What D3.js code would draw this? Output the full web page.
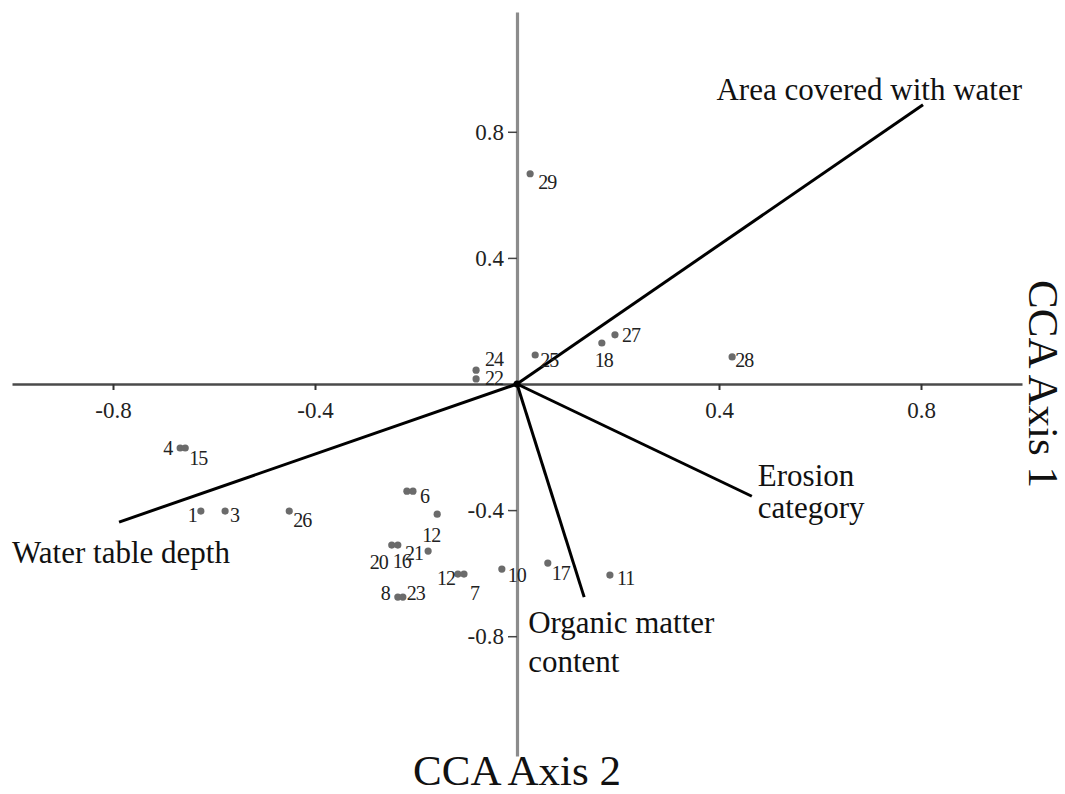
<!DOCTYPE html>
<html>
<head>
<meta charset="utf-8">
<script src="https://cdn.jsdelivr.net/npm/d3@7"></script>
<style>
  body { margin: 0; background: #fff; }
  svg { display: block; font-family: "Liberation Serif", "Times New Roman", serif; }
  .pt-label { font-size: 20px; fill: #222; letter-spacing: -1px; }
  .vec-label { font-size: 31px; fill: #111; }
  .tick text { font-size: 23px; fill: #222; }
  .title { font-size: 43px; fill: #111; }
</style>
</head>
<body>
<svg width="1065" height="794"></svg>
<script>
const svgWidth = 1065;
const svgHeight = 794;

// site scores (CCA axis 1 horizontal, CCA axis 2 vertical as drawn)
const siteLabels = ["29", "24", "22", "25", "18", "27", "28", "4", "15", "1", "3", "26",
    "", "6", "12", "20", "16", "21", "12", "7", "8", "23", "10", "17", "11"];
const siteX = [0.026, -0.081, -0.081, 0.036, 0.168, 0.194, 0.426, -0.667, -0.657, -0.626, -0.578, -0.451,
    -0.218, -0.206, -0.158, -0.248, -0.236, -0.176, -0.117, -0.105, -0.236, -0.226, -0.030, 0.061, 0.184];
const siteY = [0.667, 0.044, 0.016, 0.092, 0.130, 0.156, 0.086, -0.203, -0.203, -0.403, -0.403, -0.403,
    -0.340, -0.340, -0.413, -0.511, -0.511, -0.530, -0.603, -0.603, -0.676, -0.676, -0.587, -0.568, -0.606];

// environmental vectors
const vecNames = [["Area covered with water"], ["Water table depth"], ["Erosion", "category"], ["Organic matter", "content"]];
const vecX = [0.804, -0.788, 0.465, 0.133];
const vecY = [0.886, -0.438, -0.356, -0.676];

const tickVals = [-0.8, -0.4, 0.4, 0.8];

// where the labels sit, relative to the point (px)
const siteLabelPos = [[8, 15, "start"], [9, -4, "start"], [9, 6, "start"], [5, 12, "start"], [-7, 24, "start"],
    [7, 7, "start"], [3, 10, "start"], [-8, 7, "end"], [4, 17, "start"], [-4, 11, "end"], [5, 11, "start"],
    [4, 16, "start"], [0, 0, "start"], [7, 12, "start"], [-6, 28, "middle"], [-4, 24, "end"], [-5, 23, "start"],
    [-5, 9, "end"], [-3, 11, "end"], [6, 26, "start"], [-8, 3, "end"], [4, 3, "start"], [6, 13, "start"],
    [4, 17, "start"], [7, 10, "start"]];
const vecLabelPos = [[99, -5, "end", 0], [-107, 41, "start", 0], [6, -10, "start", 32], [-56, 36, "start", 39]];

const svg = d3.select("svg");

const x = d3.scaleLinear().domain([-1, 1]).range([12, 1022]);
const y = d3.scaleLinear().domain([-1.18, 1.18]).range([756, 12]);

// horizontal axis
const xAxis = svg.append("g")
    .attr("class", "x-axis")
    .attr("transform", `translate(0,${y(0)})`)
    .call(d3.axisBottom(x).tickValues(tickVals).tickSize(6).tickSizeOuter(0).tickPadding(12)
        .tickFormat(d => d.toFixed(1)));
xAxis.select(".domain").attr("stroke", "#4a4a4a").attr("stroke-width", 2.5);
xAxis.selectAll(".tick line").attr("stroke", "#333").attr("stroke-width", 2);

// vertical axis
const yAxis = svg.append("g")
    .attr("class", "y-axis")
    .attr("transform", `translate(${x(0)},0)`)
    .call(d3.axisLeft(y).tickValues(tickVals).tickSize(9).tickSizeOuter(0).tickPadding(4)
        .tickFormat(d => d.toFixed(1)));
yAxis.select(".domain").attr("stroke", "#8c8c8c").attr("stroke-width", 3.2);
yAxis.selectAll(".tick line").attr("stroke", "#444").attr("stroke-width", 1.5);

svg.selectAll("g.x-axis, g.y-axis").attr("font-size", null).attr("font-family", null);

// vectors
const vecs = vecNames.map((n, i) => ({ name: n, x: vecX[i], y: vecY[i], pos: vecLabelPos[i] }));

svg.selectAll(".vec")
    .data(vecs)
    .enter().append("line")
    .attr("class", "vec")
    .attr("x1", x(0)).attr("y1", y(0))
    .attr("x2", d => x(d.x)).attr("y2", d => y(d.y))
    .attr("stroke", "#000")
    .attr("stroke-width", 3);

svg.append("circle")
    .attr("cx", x(0)).attr("cy", y(0)).attr("r", 3.5).attr("fill", "#000");

const vl = svg.selectAll(".vec-label")
    .data(vecs)
    .enter().append("text")
    .attr("class", "vec-label")
    .attr("text-anchor", d => d.pos[2])
    .attr("x", d => x(d.x) + d.pos[0])
    .attr("y", d => y(d.y) + d.pos[1]);

vl.selectAll("tspan")
    .data(d => d.name.map(s => ({ s: s, d: d })))
    .enter().append("tspan")
    .attr("x", t => x(t.d.x) + t.d.pos[0])
    .attr("dy", (t, j) => j === 0 ? 0 : t.d.pos[3])
    .text(t => t.s);

// sites
const sites = siteLabels.map((l, i) => ({ label: l, x: siteX[i], y: siteY[i], pos: siteLabelPos[i] }));

svg.selectAll(".site")
    .data(sites)
    .enter().append("circle")
    .attr("class", "site")
    .attr("cx", d => x(d.x))
    .attr("cy", d => y(d.y))
    .attr("r", 3.6)
    .attr("fill", "#6b6b6b");

svg.selectAll(".pt-label")
    .data(sites.filter(d => d.label !== ""))
    .enter().append("text")
    .attr("class", "pt-label")
    .attr("text-anchor", d => d.pos[2])
    .attr("x", d => x(d.x) + d.pos[0])
    .attr("y", d => y(d.y) + d.pos[1])
    .text(d => d.label);

// axis titles
svg.append("text")
    .attr("class", "title")
    .attr("text-anchor", "middle")
    .attr("x", x(0))
    .attr("y", 785)
    .text("CCA Axis 2");

svg.append("text")
    .attr("class", "title")
    .attr("text-anchor", "middle")
    .attr("transform", `translate(1029,${y(0)}) rotate(90)`)
    .text("CCA Axis 1");
</script>
</body>
</html>
